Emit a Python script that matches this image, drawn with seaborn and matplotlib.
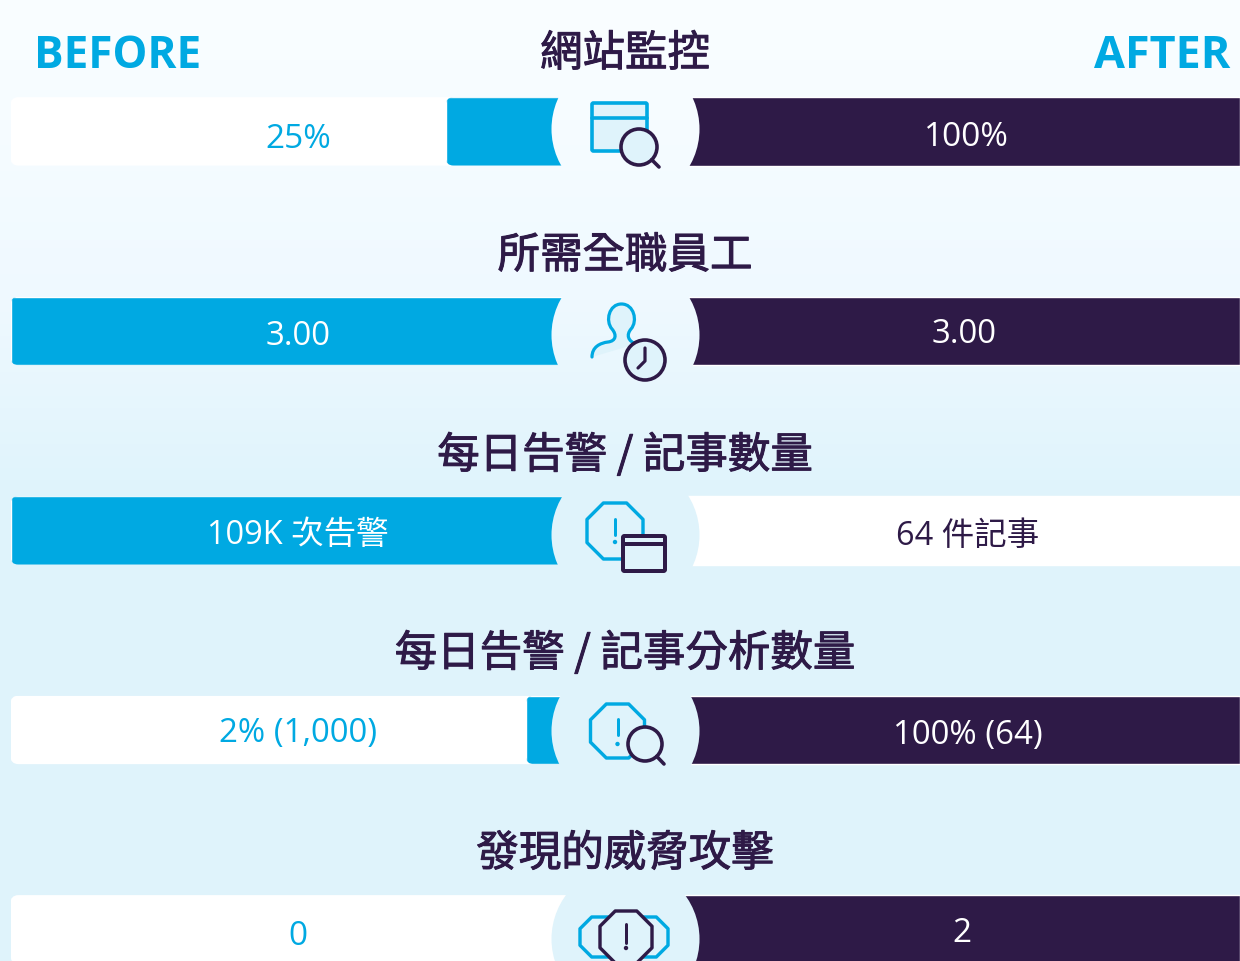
import numpy as np
import pandas as pd
import matplotlib
matplotlib.use("Agg")
import matplotlib.pyplot as plt
import matplotlib.patheffects as pe
from matplotlib.patches import Circle, FancyBboxPatch, Polygon, PathPatch
from matplotlib.path import Path
import seaborn as sns

metrics = ["網站監控", "所需全職員工", "每日告警 / 記事數量", "每日告警 / 記事分析數量", "發現的威脅攻擊"]
before_labels = ["25%", "3.00", "109K 次告警", "2% (1,000)", "0"]
after_labels = ["100%", "3.00", "64 件記事", "100% (64)", "2"]
before_fill = [22.9, 100, 100, 8.7, 0]
after_fill = [100, 100, 0, 100, 100]
before_track = [100, 0, 0, 100, 100]
after_track = [0, 0, 100, 0, 0]

CYAN = "#00a9e2"
DARK = "#2e1a47"
LIGHT = "#dff3fb"
sns.set_theme(style="white")
CJK = ["Noto Sans CJK TC", "DejaVu Sans"]
MIX = ["Open Sans", "Noto Sans CJK TC", "DejaVu Sans"]
W, H = 1240, 962
PX = 0.72


def bg_at(y):
    ys = [0, 120, 300, 480, 962]
    c = np.array([[250, 254, 255], [246, 252, 255], [239, 249, 255], [224, 244, 252], [223, 243, 251]], float)
    return np.stack([np.interp(y, ys, c[:, i]) for i in range(3)], axis=-1) / 255


gradient = bg_at(np.arange(H))[:, None, :]
fig = plt.figure(figsize=(W / 100, H / 100), dpi=100)
bg = fig.add_axes([0, 0, 1, 1], zorder=0)
bg.imshow(gradient, aspect="auto", extent=(0, W, H, 0))
bg.set_axis_off()

df = pd.DataFrame({"metric": metrics, "before_track": before_track, "after_track": after_track,
                   "before": before_fill, "after": after_fill})
row0, pitch, bar_h = 132.4, 199.5, 68.4
ylim = ((H - row0) / pitch, -row0 / pitch)


def bars(x0, x1, tr, col, color, xlim, z):
    ax = fig.add_axes([x0 / W, 0, (x1 - x0) / W, 1], zorder=z)
    ax.patch.set_alpha(0)
    sns.barplot(data=df, y="metric", x=tr, order=metrics, color="white", width=bar_h / pitch,
                saturation=1, ax=ax, zorder=1)
    sns.barplot(data=df, y="metric", x=col, order=metrics, color=color, width=bar_h / pitch,
                saturation=1, ax=ax, zorder=2)
    ax.set_xlim(*xlim)
    ax.set_ylim(*ylim)
    ax.set_axis_off()
    return ax


left = bars(10.5, 575, "before_track", "before", CYAN, (100, 0), 1)
right = bars(680, 1240, "after_track", "after", DARK, (0, 100), 1)

ov = fig.add_axes([0, 0, 1, 1], zorder=5)
ov.patch.set_alpha(0)
ov.set_axis_off()

# centre discs show the page gradient through the bars
centres = [130, 336, 536, 732, 940]
for cy in centres:
    im = ov.imshow(gradient, aspect="auto", extent=(0, W, H, 0), zorder=2)
    im.set_clip_path(Circle((625.5, cy), 74, transform=ov.transData))
ov.set_xlim(0, W)
ov.set_ylim(H, 0)

# rounded left corners of the left-hand bars
fig.canvas.draw()
r = 8
for bar in left.patches:
    e = bar.get_window_extent()
    if e.width < 1:
        continue
    clip = FancyBboxPatch((e.x0 + r, H - e.y1 + r), e.width + 30, e.height - 2 * r,
                          boxstyle=f"round,pad={r}", transform=ov.transData)
    bar.set_clip_path(clip)

# headings
ov.text(33.5, 56, "BEFORE", color=CYAN, family=MIX, weight="bold", fontsize=31.7, ha="left", va="center")
ov.text(1230, 56, "AFTER", color=CYAN, family=MIX, weight="bold", fontsize=32.3, ha="right", va="center")
title_y = [55, 257, 457, 655, 855]
for m, y in zip(metrics, title_y):
    ov.text(625, y, m, color=DARK, family=CJK, fontsize=30.6, ha="center", va="center",
            path_effects=[pe.withStroke(linewidth=0.7, foreground=DARK)])

# value labels
before_y = [140, 337, 536, 734, 937]
after_y = [138, 335, 537, 736, 934]
after_x = [966, 964.5, 967.5, 968, 962]
label_size = [24, 23.7, 23.4, 23.8, 24]
for i in range(len(metrics)):
    ov.text(298, before_y[i], before_labels[i], color="white" if before_fill[i] == 100 else CYAN,
            family=MIX, fontsize=label_size[i], ha="center", va="center")
    ov.text(after_x[i], after_y[i], after_labels[i], color=DARK if after_fill[i] == 0 else "white",
            family=MIX, fontsize=label_size[i], ha="center", va="center")


def octagon(cx, cy, a, ec, fc=LIGHT, lw=3.4, z=3):
    R = a / np.cos(np.pi / 8)
    t = np.pi / 8 + np.arange(8) * np.pi / 4
    ov.add_patch(Polygon(np.c_[cx + R * np.cos(t), cy + R * np.sin(t)], closed=True, fc=fc, ec=ec,
                         lw=lw * PX, joinstyle="round", zorder=z))


def bang(x, y0, y1, yd, color, z=6):
    ov.plot([x, x], [y0, y1], color=color, lw=3 * PX, solid_capstyle="round", zorder=z)
    ov.add_patch(Circle((x, yd), 2.2, fc=color, ec="none", zorder=z))


def lens(cx, cy, rad, hx, hy, z=6):
    ov.add_patch(Circle((cx, cy), rad, fc=LIGHT, ec=DARK, lw=3.6 * PX, zorder=z))
    k = rad / np.hypot(hx - cx, hy - cy)
    ov.plot([cx + (hx - cx) * k, hx], [cy + (hy - cy) * k, hy], color=DARK, lw=3.6 * PX,
            solid_capstyle="round", zorder=z)


def window(x0, y0, x1, y1, yh, color, lw, z=4):
    ov.add_patch(FancyBboxPatch((x0, y0), x1 - x0, y1 - y0, boxstyle="round,pad=0,rounding_size=1.5",
                                fc=LIGHT, ec=color, lw=lw * PX, zorder=z))
    ov.plot([x0, x1], [yh, yh], color=color, lw=lw * PX, zorder=z + 0.1)


# icon 1: window + lens
window(592, 104, 647, 152, 119, CYAN, 3.6)
lens(639, 148, 18, 659, 168)

# icon 2: person + clock
person = Path(
    [(592, 358), (592, 348), (600, 344), (608, 343), (616, 342), (617, 336), (612, 330), (605, 322), (609, 305),
     (621.5, 305), (634, 305), (638, 322), (631, 330), (626, 336), (628, 342), (636, 345)],
    [Path.MOVETO] + [Path.CURVE4] * 15)
ov.add_patch(PathPatch(person, fc=LIGHT, ec=CYAN, lw=3.2 * PX, capstyle="round", zorder=3))
ov.add_patch(Circle((645, 361), 20, fc=LIGHT, ec=DARK, lw=3.6 * PX, zorder=6))
ov.plot([645, 645, 638], [349, 362, 369], color=DARK, lw=3.2 * PX, solid_capstyle="round",
        solid_joinstyle="round", zorder=7)

# icon 3: octagon + window
octagon(615, 532, 28, CYAN)
bang(615, 520, 536, 543, CYAN)
window(623, 537, 665, 572, 545, DARK, 4, z=6)

# icon 4: octagon + lens
octagon(617.5, 732, 27, CYAN)
bang(617.5, 720, 736, 745, CYAN)
lens(645, 745, 17, 664, 765)

# icon 5: three octagons
octagon(600, 938, 20, CYAN, z=3)
octagon(648, 938, 20, CYAN, z=3)
octagon(626, 938, 26, DARK, z=6)
bang(626, 925, 944, 949, DARK, z=7)

fig.savefig("out.png", dpi=100)
